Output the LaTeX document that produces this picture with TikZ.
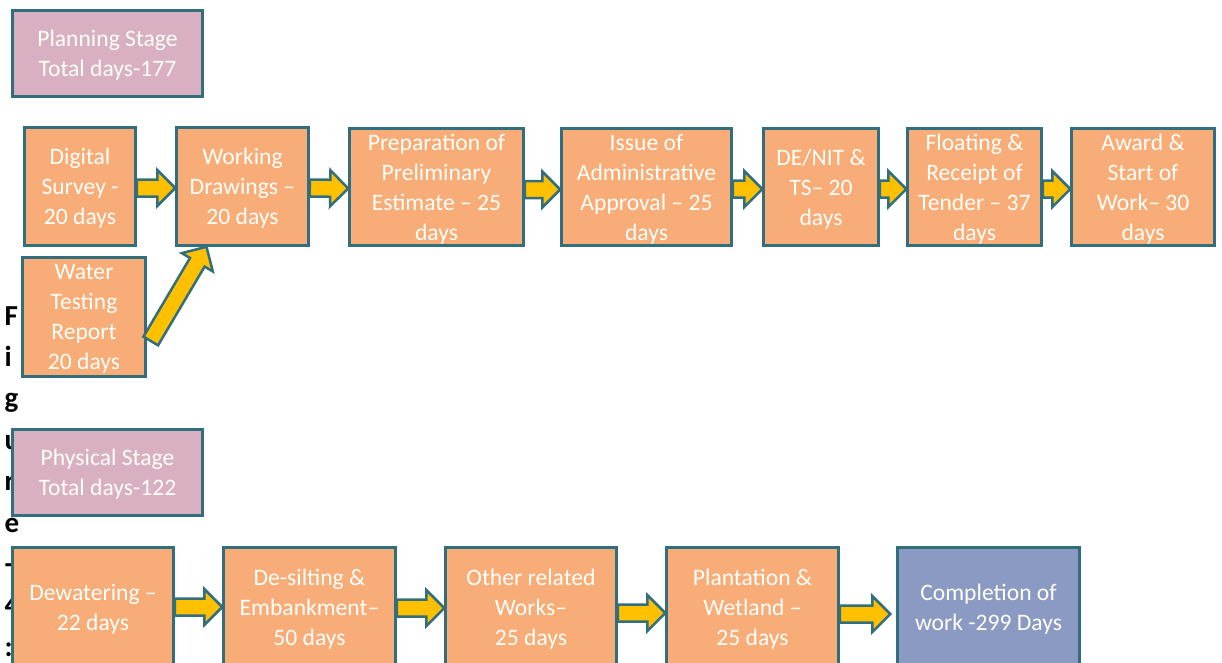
\documentclass[tikz,border=0pt]{standalone}
\usepackage{fontspec}
\setmainfont{Carlito}
\usetikzlibrary{calc}

\definecolor{boxorange}{RGB}{248,172,120}
\definecolor{stagepink}{RGB}{217,176,193}
\definecolor{endblue}{RGB}{139,154,195}
\definecolor{edgeteal}{RGB}{49,110,126}
\definecolor{arrowgold}{RGB}{255,192,0}
\definecolor{boxtext}{RGB}{255,255,250}

\tikzset{
  flowbox/.style={draw=edgeteal, line width=2.5pt, fill=boxorange, text=boxtext,
    inner sep=0pt, align=center, text depth=-1.5pt,
    font=\fontsize{23.6}{30}\selectfont},
  stagebox/.style={flowbox, fill=stagepink},
  endbox/.style={flowbox, fill=endblue},
  barrow/.style={draw=edgeteal, line width=2.5pt, fill=arrowgold, line join=miter},
  sidechar/.style={anchor=base west, inner sep=0pt, text=black,
    font=\fontsize{29}{30}\selectfont\bfseries}
}

% block arrow from #1 to #2 (tip), shaft and head drawn as one outlined polygon
\newcommand{\blockarrow}[2]{%
  \path[barrow] let \p1=(#1), \p2=(#2),
      \n1={atan2(\y2-\y1,\x2-\x1)}, \n2={veclen(\x2-\x1,\y2-\y1)} in
    ($(\p1)+(\n1+90:8.5pt)$)
    -- ($(\p1)+(\n1:{(\n2-18)*1pt})+(\n1+90:8.5pt)$)
    -- ($(\p1)+(\n1:{(\n2-18)*1pt})+(\n1+90:18pt)$)
    -- (\p2)
    -- ($(\p1)+(\n1:{(\n2-18)*1pt})+(\n1-90:18pt)$)
    -- ($(\p1)+(\n1:{(\n2-18)*1pt})+(\n1-90:8.5pt)$)
    -- ($(\p1)+(\n1-90:8.5pt)$) -- cycle;}

\begin{document}
\begin{tikzpicture}[x=1pt,y=-1pt]
\useasboundingbox (0,0) rectangle (1222,662);
\clip (0,0) rectangle (1222,662);
\fill[white] (0,0) rectangle (1222,662);

% caption letters running down the left margin
\foreach \ch [count=\k from 0] in {F,i,g,u,r,e,-,4,:}
  \node[sidechar] (cap\k) at (4.5,{325+41.4*\k}) {\ch};

% planning stage
\node[stagebox, minimum width=190, minimum height=86] (plan) at (107.5,53.5)
  {Planning Stage\\Total days-177};
\node[flowbox, minimum width=111, minimum height=118] (dig) at (80,186.5)
  {Digital\\Survey -\\20 days};
\node[flowbox, minimum width=132, minimum height=118] (work) at (242.5,186.5)
  {Working\\Drawings –\\20 days};
\node[flowbox, minimum width=174, minimum height=117] (prep) at (436.5,187)
  {Preparation of\\Preliminary\\Estimate – 25\\days};
\node[flowbox, minimum width=170, minimum height=117] (iss) at (646.5,187)
  {Issue of\\Administrative\\Approval – 25\\days};
\node[flowbox, minimum width=115, minimum height=117] (denit) at (821,187)
  {DE/NIT \&\\TS– 20\\days};
\node[flowbox, minimum width=134, minimum height=117] (flo) at (974.5,187)
  {Floating \&\\Receipt of\\Tender – 37\\days};
\node[flowbox, minimum width=143, minimum height=117] (awd) at (1143,187)
  {Award \&\\Start of\\Work– 30\\days};
\node[flowbox, minimum width=123, minimum height=119] (wat) at (84,317)
  {Water\\Testing\\Report\\20 days};

% physical stage
\node[stagebox, minimum width=190, minimum height=86] (phys) at (107.5,472.5)
  {Physical Stage\\Total days-122};
\node[flowbox, minimum width=161, minimum height=119] (dew) at (93,607)
  {Dewatering –\\22 days};
\node[flowbox, minimum width=172, minimum height=119] (des) at (309.5,607)
  {De-silting \&\\Embankment–\\50 days};
\node[flowbox, minimum width=171, minimum height=119] (oth) at (531,607)
  {Other related\\Works–\\25 days};
\node[flowbox, minimum width=172, minimum height=119] (pla) at (752.5,607)
  {Plantation \&\\Wetland –\\25 days};
\node[endbox, minimum width=182, minimum height=119] (com) at (988.5,607)
  {Completion of\\work -299 Days};

% planning stage arrows
\blockarrow{$(dig.east)+(0,1.5)$}{$(work.west)+(0,1.5)$}
\blockarrow{$(work.east)+(0,1.5)$}{$(prep.west)+(0,1.5)$}
\blockarrow{$(prep.east)+(0,2.5)$}{$(iss.west)+(0,2.5)$}
\blockarrow{$(iss.east)+(0,2)$}{$(denit.west)+(0,2)$}
\blockarrow{$(denit.east)+(0,2)$}{$(flo.west)+(0,2)$}
\blockarrow{$(flo.east)+(0,2)$}{$(awd.west)+(0,2)$}
\blockarrow{$(wat.east)+(4,24)$}{$(work.south)+(-36,0)$}

% physical stage arrows
\blockarrow{$(dew.east)+(0,0)$}{$(des.west)+(0,0)$}
\blockarrow{$(des.east)+(0,1)$}{$(oth.west)+(0,1)$}
\blockarrow{$(oth.east)+(0,6)$}{$(pla.west)+(0,6)$}
\blockarrow{$(pla.east)+(0,7)$}{$(com.west)+(-6,7)$}
\end{tikzpicture}
\end{document}
